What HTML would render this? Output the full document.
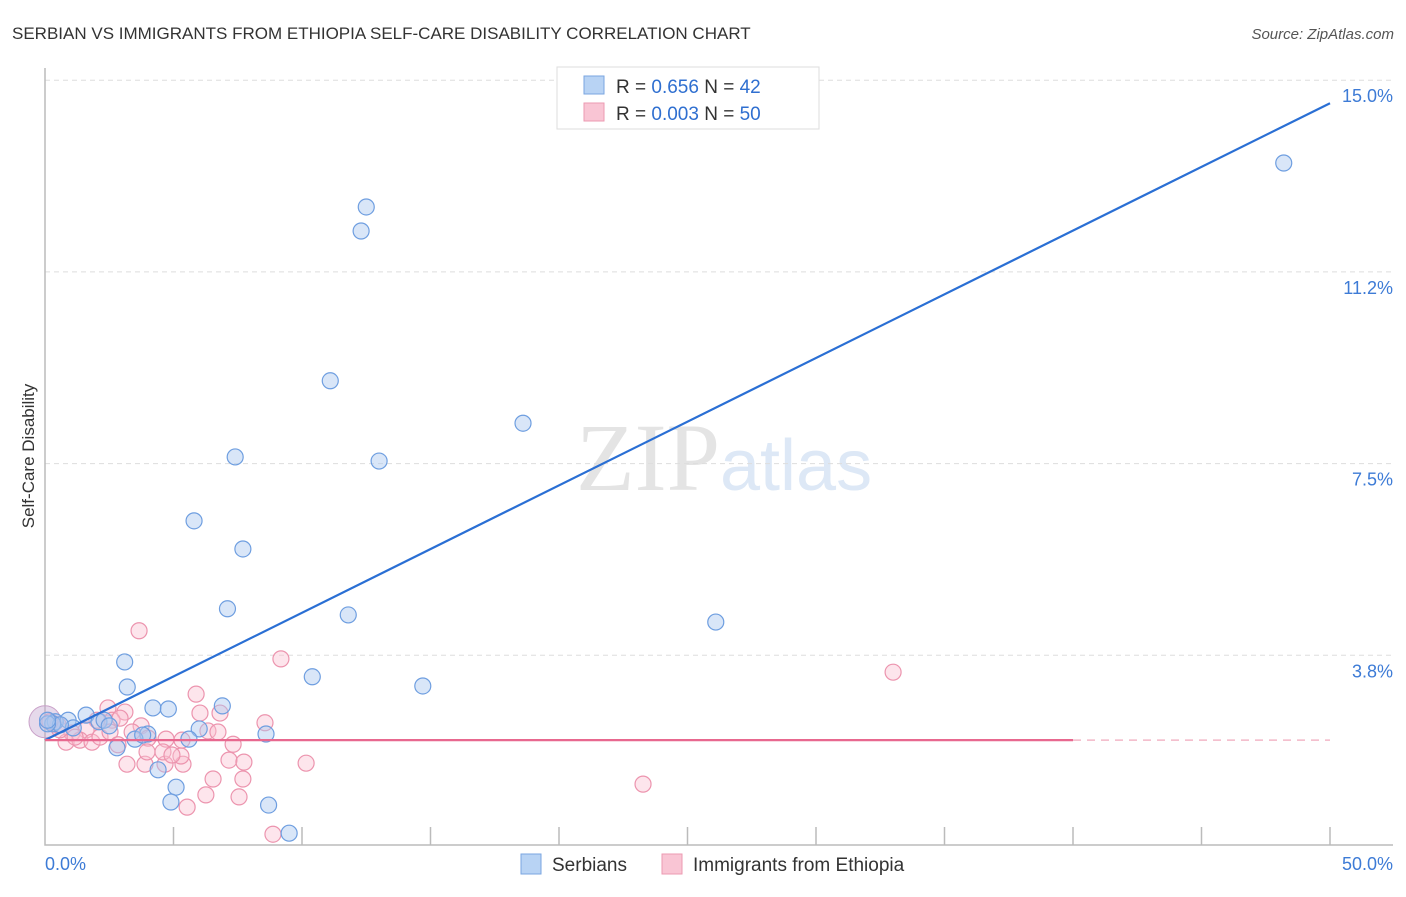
<!DOCTYPE html>
<html><head><meta charset="utf-8"><style>
body{margin:0;background:#fff;font-family:"Liberation Sans",sans-serif;}
</style></head><body>
<svg id="c" width="1406" height="892" xmlns="http://www.w3.org/2000/svg" style="font-family:'Liberation Sans',sans-serif">
<text x="12" y="39" font-size="17" fill="#333">SERBIAN VS IMMIGRANTS FROM ETHIOPIA SELF-CARE DISABILITY CORRELATION CHART</text>
<text x="1394" y="39" font-size="15" fill="#555" font-style="italic" text-anchor="end">Source: ZipAtlas.com</text>
<text x="720" y="490" font-size="96" fill="#e4e4e4" text-anchor="end" font-family="Liberation Serif">ZIP</text>
<text x="720" y="490" font-size="72" fill="#dde8f6">atlas</text>
<text x="34" y="456" font-size="17" fill="#333" text-anchor="middle" transform="rotate(-90 34 456)">Self-Care Disability</text>
<g id="grid"></g><g id="ticks"></g><g id="pts"></g><g id="lines"></g>
<g>
<rect x="557" y="67" width="262" height="62" fill="#fff" stroke="#ddd"/>
<rect x="584" y="76" width="20" height="18" fill="#b8d3f4" stroke="#7aa6e0"/>
<rect x="584" y="103" width="20" height="18" fill="#f9c5d4" stroke="#ec9ab2"/>
<text x="616" y="93" font-size="19" fill="#333">R = <tspan fill="#2f6fd0">0.656</tspan>   N = <tspan fill="#2f6fd0">42</tspan></text>
<text x="616" y="120" font-size="19" fill="#333">R = <tspan fill="#2f6fd0">0.003</tspan>   N = <tspan fill="#2f6fd0">50</tspan></text>
</g>
<g>
<rect x="521" y="854" width="20" height="20" fill="#b8d3f4" stroke="#7aa6e0"/>
<text x="552" y="871" font-size="19" fill="#333">Serbians</text>
<rect x="662" y="854" width="20" height="20" fill="#f9c5d4" stroke="#ec9ab2"/>
<text x="693" y="871" font-size="19" fill="#333">Immigrants from Ethiopia</text>
</g>
</svg>
<script>
const yTicks=[15.0,11.25,7.5,3.75];
const yTickLabels=["15.0%","11.2%","7.5%","3.8%"];
const xTickVals=[5,10,15,20,25,30,35,40,45,50];
const blueX=[48.2,12.5,12.3,11.1,18.6,7.4,13.0,5.8,7.7,7.1,11.8,26.1,3.1,10.4,14.7,3.2,4.2,4.8,6.9,6.0,8.6,5.6,4.0,3.5,0.4,0.9,1.6,2.1,2.3,1.1,0.3,2.8,4.4,5.1,4.9,8.7,9.5,0.6,2.5,3.8,0.1,0.1];
const blueY=[13.38,12.52,12.05,9.12,8.29,7.63,7.55,6.38,5.83,4.66,4.54,4.40,3.62,3.33,3.15,3.13,2.72,2.70,2.76,2.31,2.21,2.11,2.21,2.11,2.45,2.48,2.58,2.45,2.48,2.33,2.41,1.94,1.51,1.17,0.88,0.82,0.27,2.39,2.37,2.19,2.41,2.48];
const pinkX=[3.66,9.18,33.0,5.88,2.45,3.11,6.81,6.03,8.56,3.74,2.61,2.02,1.60,1.05,0.82,1.36,1.83,2.14,2.53,3.39,4.01,4.71,5.33,6.34,6.73,7.32,3.19,3.89,4.67,5.37,3.97,4.59,5.29,7.16,7.74,10.16,6.54,7.70,6.26,7.55,5.53,8.87,23.27,0.58,1.17,2.84,4.94,0.51,0.19,2.92];
const pinkY=[4.23,3.68,3.42,2.99,2.72,2.64,2.62,2.62,2.43,2.37,2.48,2.48,2.29,2.23,2.05,2.09,2.05,2.15,2.25,2.25,2.13,2.11,2.09,2.27,2.25,2.01,1.62,1.62,1.62,1.62,1.86,1.86,1.78,1.70,1.66,1.64,1.33,1.33,1.02,0.98,0.78,0.25,1.23,2.29,2.15,2.00,1.80,2.39,2.45,2.52];
const blueTrend=[[0,2.09],[50,14.55]];
const pinkTrend=[[0,2.09],[40,2.09]];
const pinkTrendDash=[[40,2.09],[50,2.09]];
const NS="http://www.w3.org/2000/svg";
const X=v=>45+v*25.7, Y=v=>847-v*51.12;
function mk(t,a,p){const e=document.createElementNS(NS,t);for(const k in a)e.setAttribute(k,a[k]);p.appendChild(e);return e;}
const g=document.getElementById('grid'),tk=document.getElementById('ticks'),pt=document.getElementById('pts'),ln=document.getElementById('lines');
yTicks.forEach((v,i)=>{const l=mk('line',{x1:45,x2:1393,y1:Y(v),y2:Y(v),stroke:'#ddd','stroke-dasharray':'5,4'},g);


const t=mk('text',{x:1393,y:Y(v)+22,'font-size':18,fill:'#3d7bd6','text-anchor':'end'},tk);t.textContent=yTickLabels[i];

});
const ax=mk('path',{d:'M45 68V845H1393',fill:'none',stroke:'#bbb','stroke-width':1.5},tk);


xTickVals.forEach(v=>{const l=mk('line',{x1:X(v),x2:X(v),y1:827,y2:845,stroke:'#bbb','stroke-width':1.5},tk);

});
let t0=mk('text',{x:45,y:870,'font-size':18,fill:'#3d7bd6'},tk);t0.textContent='0.0%';


let t1=mk('text',{x:1393,y:870,'font-size':18,fill:'#3d7bd6','text-anchor':'end'},tk);t1.textContent='50.0%';


const big=mk('circle',{cx:X(0),cy:Y(2.45),r:16,fill:'rgba(200,170,210,0.45)',stroke:'#c9a0c8'},pt);


pinkX.forEach((v,i)=>{const c=mk('circle',{cx:X(v),cy:Y(pinkY[i]),r:8,fill:'rgba(249,190,208,0.4)',stroke:'#ec94ae','stroke-width':1.2},pt);

});
blueX.forEach((v,i)=>{const c=mk('circle',{cx:X(v),cy:Y(blueY[i]),r:8,fill:'rgba(170,200,240,0.45)',stroke:'#6e9ee0','stroke-width':1.2},pt);

});
let b=mk('line',{x1:X(blueTrend[0][0]),y1:Y(blueTrend[0][1]),x2:X(blueTrend[1][0]),y2:Y(blueTrend[1][1]),stroke:'#2a6fd4','stroke-width':2.2},ln);


let p=mk('line',{x1:X(pinkTrend[0][0]),y1:Y(pinkTrend[0][1]),x2:X(pinkTrend[1][0]),y2:Y(pinkTrend[1][1]),stroke:'#e8688f','stroke-width':2.2},ln);


let pd=mk('line',{x1:X(pinkTrendDash[0][0]),y1:Y(pinkTrendDash[0][1]),x2:X(pinkTrendDash[1][0]),y2:Y(pinkTrendDash[1][1]),stroke:'#f2b8c8','stroke-width':1.5,'stroke-dasharray':'8,6'},ln);


</script>
</body></html>
